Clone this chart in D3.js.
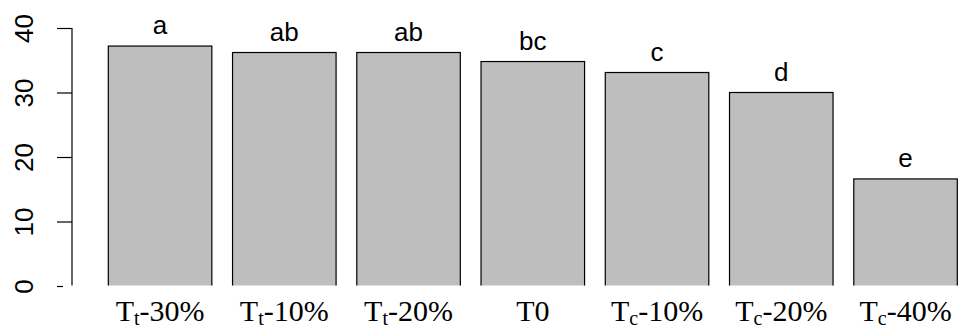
<!DOCTYPE html>
<html>
<head>
<meta charset="utf-8">
<script src="https://cdn.jsdelivr.net/npm/d3@7"></script>
<style>
  html, body { margin: 0; padding: 0; background: #fff; }
  svg { display: block; }
</style>
</head>
<body>
<div id="chart"></div>
<script>
// ---- data ----
const groups = ["Tt-30%", "Tt-10%", "Tt-20%", "T0", "Tc-10%", "Tc-20%", "Tc-40%"];
const mainLabel = ["T", "T", "T", "T0", "T", "T", "T"];
const subLabel = ["t", "t", "t", "", "c", "c", "c"];
const restLabel = ["-30%", "-10%", "-20%", "", "-10%", "-20%", "-40%"];
const values = [37.2, 36.2, 36.2, 34.8, 33.1, 30.0, 16.6];
const letters = ["a", "ab", "ab", "bc", "c", "d", "e"];
const yTicks = [0, 10, 20, 30, 40];

const width = 969, height = 329;

const svg = d3.select("#chart").append("svg")
  .attr("width", width)
  .attr("height", height);

// scales
const x = d3.scaleBand()
  .domain(groups)
  .range([108.3, 957.3])
  .paddingInner(1 / 6)
  .paddingOuter(0);

const y = d3.scaleLinear()
  .domain([0, 40])
  .range([286, 28]);

// bottom of the plot is cut off just above zero
svg.append("clipPath").attr("id", "plotClip")
  .append("rect").attr("x", 0).attr("y", 0).attr("width", width).attr("height", 285.5);

// -------- bars --------
svg.append("g")
  .attr("clip-path", "url(#plotClip)")
  .selectAll("rect")
  .data(values)
  .join("rect")
  .attr("x", (d, i) => x(groups[i]))
  .attr("y", d => y(d))
  .attr("width", x.bandwidth())
  .attr("height", d => y(0) - y(d) + 4)
  .attr("fill", "#bebebe")
  .attr("stroke", "#000")
  .attr("stroke-width", 1.2);

// -------- significance letters --------
svg.append("g")
  .selectAll("text")
  .data(values)
  .join("text")
  .attr("x", (d, i) => x(groups[i]) + x.bandwidth() / 2)
  .attr("y", d => y(d) - 12)
  .attr("text-anchor", "middle")
  .attr("font-family", "'Liberation Sans', Arial, sans-serif")
  .attr("font-size", 26)
  .text((d, i) => letters[i]);

// -------- y axis --------
const yAxis = svg.append("g")
  .attr("transform", "translate(72,0)")
  .call(d3.axisLeft(y).tickValues(yTicks).tickSize(15).tickPadding(24).tickFormat(d3.format("d")));

yAxis.select(".domain").attr("d", `M0,${y(40)}V285.5`).attr("stroke-width", 1.2);
yAxis.selectAll(".tick line").attr("stroke-width", 1.2)
  .filter(d => d === 0).attr("x1", -9);
yAxis.selectAll(".tick text")
  .attr("font-family", "'Liberation Sans', Arial, sans-serif")
  .attr("font-size", 26)
  .attr("fill", "#000")
  .attr("text-anchor", "middle")
  .attr("dy", 0)
  .attr("x", 0)
  .attr("transform", "translate(-39,0) rotate(-90)");

// -------- x labels (Times, with subscripts) --------
const xLab = svg.append("g")
  .selectAll("text")
  .data(groups)
  .join("text")
  .attr("x", d => x(d) + x.bandwidth() / 2)
  .attr("y", 321)
  .attr("text-anchor", "middle")
  .attr("font-family", "'Liberation Serif', 'Times New Roman', serif")
  .attr("font-size", 30);

xLab.append("tspan").text((d, i) => mainLabel[i]);
xLab.append("tspan")
  .attr("font-size", 20)
  .attr("dy", 4)
  .text((d, i) => subLabel[i]);
xLab.append("tspan")
  .attr("dy", (d, i) => subLabel[i] ? -4 : 0)
  .text((d, i) => restLabel[i]);
</script>
</body>
</html>
